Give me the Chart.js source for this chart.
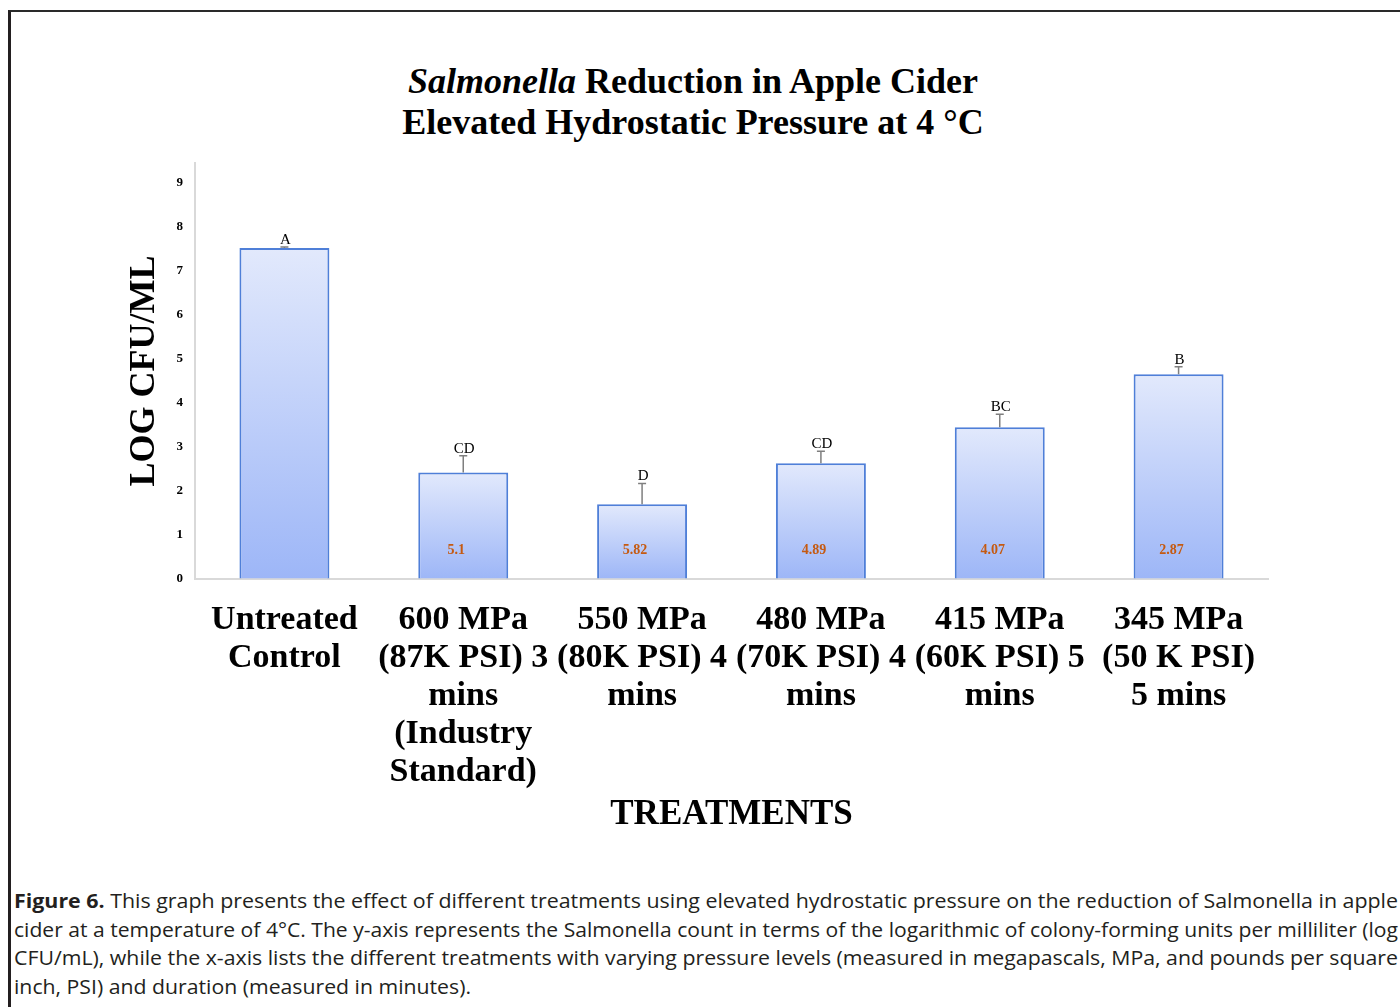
<!DOCTYPE html>
<html>
<head>
<meta charset="utf-8">
<script src="https://cdn.jsdelivr.net/npm/chart.js@4.4.1/dist/chart.umd.min.js"></script>
<style>
  html, body { margin: 0; padding: 0; background: #fff; }
  body { width: 1400px; height: 1007px; position: relative; overflow: hidden; }
  #frame { position: absolute; left: 8px; top: 10px; width: 1420px; height: 1020px;
           border-top: 2px solid #2a2a2a; border-left: 3px solid #231f20; }
  #chartTitle { position: absolute; left: 0; top: 61px; width: 1386px; text-align: center;
                font-family: 'Liberation Serif', 'Times New Roman', serif; font-weight: bold;
                font-size: 36px; line-height: 41px; color: #000; }
  #chart { position: absolute; left: 0; top: 0; }
  #caption { position: absolute; left: 14px; top: 887px; font-family: 'Open Sans', sans-serif;
             font-size: 20px; line-height: 28.7px; color: #231f20; }
  #caption .ln { white-space: nowrap; height: 28.7px; }
  #caption .ln span { display: inline-block; transform-origin: 0 50%; }
</style>
</head>
<body>
<div id="frame"></div>
<div id="chartTitle"><i>Salmonella</i> Reduction in Apple Cider<br>Elevated Hydrostatic Pressure at 4 °C</div>
<canvas id="chart" width="1400" height="840"></canvas>
<div id="caption">
  <div class="ln"><span data-w="1384"><b>Figure 6.</b> This graph presents the effect of different treatments using elevated hydrostatic pressure on the reduction of Salmonella in apple</span></div>
  <div class="ln"><span data-w="1384">cider at a temperature of 4°C. The y-axis represents the Salmonella count in terms of the logarithmic of colony-forming units per milliliter (log</span></div>
  <div class="ln"><span data-w="1384">CFU/mL), while the x-axis lists the different treatments with varying pressure levels (measured in megapascals, MPa, and pounds per square</span></div>
  <div class="ln"><span data-w="457">inch, PSI) and duration (measured in minutes).</span></div>
</div>
<script>
// datos
const categories = [
  ['Untreated', 'Control'],
  ['600 MPa', '(87K PSI) 3', 'mins', '(Industry', 'Standard)'],
  ['550 MPa', '(80K PSI) 4', 'mins'],
  ['480 MPa', '(70K PSI) 4', 'mins'],
  ['415 MPa', '(60K PSI) 5', 'mins'],
  ['345 MPa', '(50 K PSI)', '5 mins']
];
const logCounts = [7.52, 2.42, 1.70, 2.63, 3.45, 4.65];
const errorBars = [0.02, 0.38, 0.47, 0.27, 0.29, 0.17];
const groupLetters = ['A', 'CD', 'D', 'CD', 'BC', 'B'];
const logReductions = ['', '5.1', '5.82', '4.89', '4.07', '2.87'];
const yTicks = [0, 1, 2, 3, 4, 5, 6, 7, 8, 9];
const yMax = 9.45;

const serif = "'Liberation Serif', 'Times New Roman', serif";

// barras, barras de error y letras
const annotations = {
  id: 'annotations',
  afterDatasetsDraw(chart) {
    const ctx = chart.ctx;
    const y = chart.scales.y;
    const meta = chart.getDatasetMeta(0);
    const base = y.getPixelForValue(0);
    ctx.save();
    meta.data.forEach(function(bar, i) {
      const top = y.getPixelForValue(logCounts[i]);
      const errTop = y.getPixelForValue(logCounts[i] + errorBars[i]);
      ctx.strokeStyle = '#7f7f7f';
      ctx.lineWidth = 1.5;
      ctx.beginPath();
      ctx.moveTo(bar.x, top);
      ctx.lineTo(bar.x, errTop);
      ctx.moveTo(bar.x - 4, errTop);
      ctx.lineTo(bar.x + 4, errTop);
      ctx.stroke();

      ctx.fillStyle = '#000';
      ctx.font = '15px ' + serif;
      ctx.textAlign = 'center';
      ctx.textBaseline = 'alphabetic';
      ctx.fillText(groupLetters[i], bar.x + 1, errTop - 3);

      if (logReductions[i]) {
        ctx.fillStyle = '#c55a11';
        ctx.font = 'bold 14px ' + serif;
        ctx.textBaseline = 'middle';
        ctx.fillText(logReductions[i], bar.x - 7, base - 29);
      }
    });
    ctx.restore();
  }
};

function barGradient(context) {
  const chart = context.chart;
  const y = chart.scales.y;
  if (!chart.chartArea || !y) return '#c5d3fa';
  const top = y.getPixelForValue(context.raw);
  const bottom = y.getPixelForValue(0);
  const g = chart.ctx.createLinearGradient(0, top, 0, bottom);
  g.addColorStop(0, '#e2e9fc');
  g.addColorStop(1, '#9db6f7');
  return g;
}

new Chart(document.getElementById('chart'), {
  type: 'bar',
  data: {
    labels: categories,
    datasets: [{
      data: logCounts,
      backgroundColor: barGradient,
      borderColor: '#4f7fd8',
      borderWidth: 2,
      barPercentage: 0.503,
      categoryPercentage: 1
    }]
  },
  options: {
    responsive: false,
    animation: false,
    layout: { padding: { left: 123, top: 163, right: 132, bottom: 0 } },
    plugins: {
      legend: { display: false },
      tooltip: { enabled: false }
    },
    scales: {
      x: {
        grid: { display: true, drawOnChartArea: false, drawTicks: false },
        border: { display: true, color: '#d9d9d9', width: 2 },
        ticks: {
          color: '#000',
          font: { family: serif, size: 34, weight: 'bold', lineHeight: 38 / 34 },
          padding: 22,
          maxRotation: 0,
          autoSkip: false
        },
        title: {
          display: true,
          text: 'TREATMENTS',
          color: '#000',
          font: { family: serif, size: 35, weight: 'bold' },
          padding: { top: 0, bottom: 4 }
        },
        afterFit: function(scale) { scale.height = 261; }
      },
      y: {
        min: 0,
        max: yMax,
        grid: { display: true, drawOnChartArea: false, drawTicks: false },
        border: { display: true, color: '#d9d9d9', width: 2 },
        ticks: {
          color: '#000',
          font: { family: serif, size: 13, weight: 'bold' },
          padding: 12
        },
        afterBuildTicks: function(scale) {
          scale.ticks = yTicks.map(function(v) { return { value: v }; });
        },
        title: {
          display: true,
          text: 'LOG CFU/ML',
          color: '#000',
          font: { family: serif, size: 36, weight: 'bold' },
          padding: { top: 0, bottom: 0 }
        },
        afterFit: function(scale) { scale.width = 72; }
      }
    }
  },
  plugins: [annotations]
});

// ajustar el ancho de cada línea del pie de figura
function fitCaption() {
  document.querySelectorAll('#caption .ln span').forEach(function(s) {
    s.style.transform = 'none';
    const w = s.getBoundingClientRect().width;
    const target = parseFloat(s.dataset.w);
    s.style.transform = 'scaleX(' + (target / w) + ')';
  });
}
fitCaption();
if (document.fonts && document.fonts.ready) document.fonts.ready.then(fitCaption);
</script>
</body>
</html>
